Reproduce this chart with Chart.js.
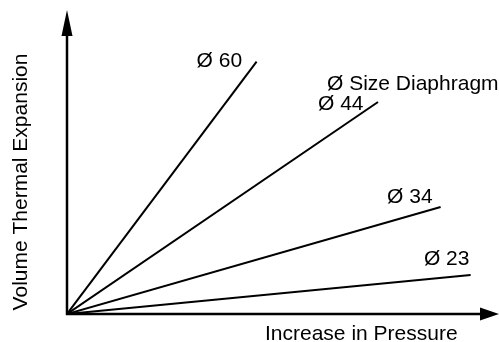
<!DOCTYPE html>
<html>
<head>
<meta charset="utf-8">
<script src="https://cdn.jsdelivr.net/npm/chart.js@4/dist/chart.umd.min.js"></script>
<style>
html,body{margin:0;padding:0;background:#fff;}
canvas{display:block;}
</style>
</head>
<body>
<canvas id="c" width="499" height="342"></canvas>
<script>
// Series: diaphragm sizes, each a straight line from the origin
const sizes = ["Ø 60", "Ø 44", "Ø 34", "Ø 23"];
const endPressure = [47.4, 77.75, 93.4, 100.9];
const endVolume = [63.1, 53.0, 26.75, 9.75];
const xTitle = "Increase in Pressure";
const yTitle = "Volume Thermal Expansion";
const legendTitle = "Ø Size Diaphragm";

// label anchors (pixel offsets relative to line end), styling only
const labelOffsets = [[-60, 5.5], [-60, 8], [-53.5, -4], [-46.7, -10]];

const datasets = sizes.map((s, i) => ({
  label: s,
  data: [{x: 0, y: 0}, {x: endPressure[i], y: endVolume[i]}],
  borderColor: '#000',
  borderWidth: 2,
  pointRadius: 0,
  fill: false,
  tension: 0
}));

const FONT = '21px "Liberation Sans", Arial, sans-serif';

const decor = {
  id: 'decor',
  afterDatasetsDraw(chart) {
    const ctx = chart.ctx;
    const xs = chart.scales.x, ys = chart.scales.y;
    const ox = xs.getPixelForValue(0), oy = ys.getPixelForValue(0);
    const top = ys.getPixelForValue(ys.max);
    const right = xs.getPixelForValue(xs.max);
    ctx.save();
    ctx.strokeStyle = '#000';
    ctx.fillStyle = '#000';
    ctx.lineWidth = 2.5;
    ctx.beginPath();
    ctx.moveTo(ox, oy + 1); ctx.lineTo(ox, top + 20);
    ctx.moveTo(ox - 1, oy); ctx.lineTo(right - 15, oy);
    ctx.stroke();
    // arrowheads
    ctx.beginPath();
    ctx.moveTo(ox, top); ctx.lineTo(ox - 5.5, top + 26); ctx.lineTo(ox + 5.5, top + 26); ctx.closePath();
    ctx.fill();
    ctx.beginPath();
    ctx.moveTo(right, oy); ctx.lineTo(right - 19, oy - 6.5); ctx.lineTo(right - 19, oy + 6.5); ctx.closePath();
    ctx.fill();

    ctx.font = FONT;
    ctx.textBaseline = 'alphabetic';
    ctx.textAlign = 'left';
    sizes.forEach((s, i) => {
      const px = xs.getPixelForValue(endPressure[i]);
      const py = ys.getPixelForValue(endVolume[i]);
      ctx.fillText(s, px + labelOffsets[i][0], py + labelOffsets[i][1]);
    });
    ctx.fillText(legendTitle, 327, 90);
    ctx.fillText(xTitle, 265, 340);
    ctx.save();
    ctx.translate(27, 182);
    ctx.rotate(-Math.PI / 2);
    ctx.textAlign = 'center';
    ctx.fillText(yTitle, 0, 0);
    ctx.restore();
    ctx.restore();
  }
};

new Chart(document.getElementById('c'), {
  type: 'line',
  data: { datasets },
  options: {
    responsive: false,
    animation: false,
    layout: { padding: { left: 67, right: 0, top: 10, bottom: 28 } },
    plugins: { legend: { display: false }, tooltip: { enabled: false } },
    scales: {
      x: { type: 'linear', min: 0, max: 108, display: false },
      y: { type: 'linear', min: 0, max: 76, display: false }
    }
  },
  plugins: [decor]
});
</script>
</body>
</html>
